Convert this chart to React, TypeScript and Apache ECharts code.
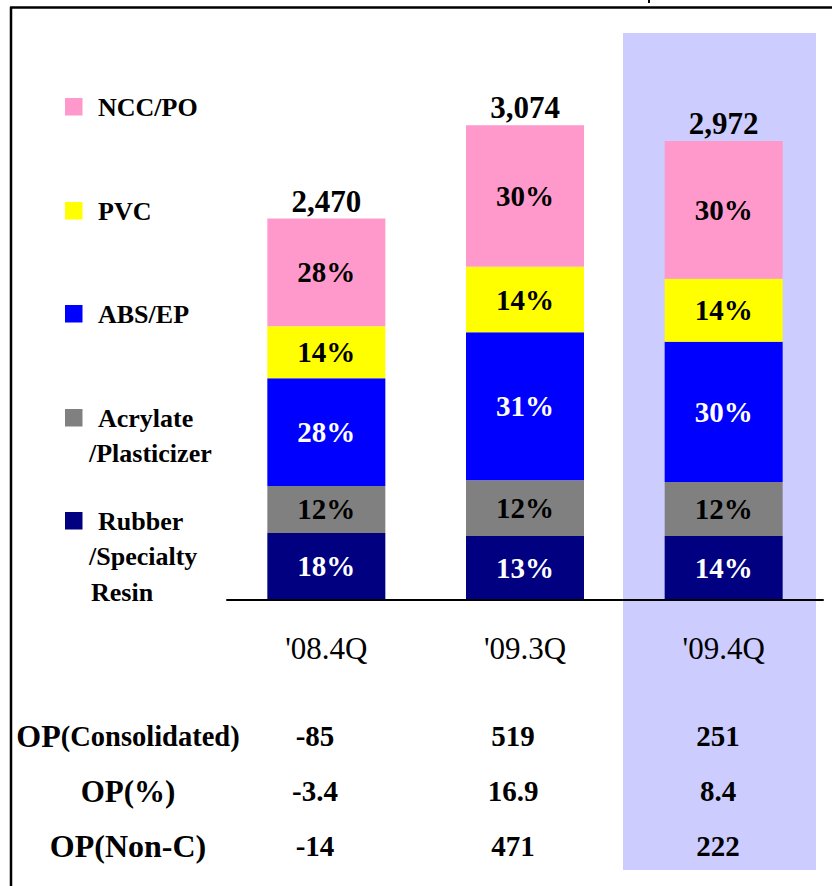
import React, { useEffect, useRef } from "react";
import * as echarts from "echarts";

const categories = ["'08.4Q", "'09.3Q", "'09.4Q"];
const seriesNames = ["Rubber/Specialty Resin", "Acrylate/Plasticizer", "ABS/EP", "PVC", "NCC/PO"];
const seriesColors = ["#000080", "#808080", "#0000FF", "#FFFF00", "#FF99CC"];
const labelColors = ["#FFFFFF", "#000000", "#FFFFFF", "#000000", "#000000"];

const rubberValues = [434, 414, 414];
const acrylateValues = [304, 362, 350];
const absValues = [698, 958, 908];
const pvcValues = [336, 423, 408];
const nccValues = [698, 917, 892];
const totals = [2470, 3074, 2972];

const rubberPct = ["18%", "13%", "14%"];
const acrylatePct = ["12%", "12%", "12%"];
const absPct = ["28%", "31%", "30%"];
const pvcPct = ["14%", "14%", "14%"];
const nccPct = ["28%", "30%", "30%"];

const legendLines = [
  ["Rubber", "/Specialty", "Resin"],
  ["Acrylate", "/Plasticizer"],
  ["ABS/EP"],
  ["PVC"],
  ["NCC/PO"],
];

const rowLabels = ["OP(Consolidated)", "OP(%)", "OP(Non-C)"];
const opConsolidated = ["-85", "519", "251"];
const opPercent = ["-3.4", "16.9", "8.4"];
const opNonConsolidated = ["-14", "471", "222"];

const FONT = '"Liberation Serif", "Times New Roman", serif';

export default function App() {
  const ref = useRef<HTMLDivElement>(null);

  useEffect(() => {
    if (!ref.current) return;
    const chart = echarts.init(ref.current, null, { renderer: "svg" });

    const values = [rubberValues, acrylateValues, absValues, pvcValues, nccValues];
    const pcts = [rubberPct, acrylatePct, absPct, pvcPct, nccPct];

    const barSeries: any[] = seriesNames.map((name, i) => ({
      name,
      type: "bar",
      stack: "total",
      barWidth: 118,
      z: 3,
      itemStyle: { color: seriesColors[i] },
      label: {
        show: true,
        position: "inside",
        fontFamily: FONT,
        fontWeight: "bold",
        fontSize: 29,
        color: labelColors[i],
        formatter: (p: any) => pcts[i][p.dataIndex],
      },
      data: values[i],
    }));

    const totalSeries = {
      name: "Total",
      type: "scatter",
      symbolSize: 0,
      z: 4,
      itemStyle: { opacity: 1, color: "#000" },
      data: totals,
      label: {
        show: true,
        position: "top",
        distance: 2,
        fontFamily: FONT,
        fontWeight: "bold",
        fontSize: 31,
        color: "#000",
        opacity: 1,
        formatter: (p: any) => totals[p.dataIndex].toLocaleString("en-US"),
      },
    };

    const graphics: any[] = [];
    graphics.push({
      type: "rect",
      z: -10,
      shape: { x: 623, y: 33, width: 193, height: 837 },
      style: { fill: "#CCCCFF" },
    });
    graphics.push({
      type: "line",
      shape: { x1: 10, y1: 7.5, x2: 832, y2: 7.5 },
      style: { stroke: "#000", lineWidth: 2.5 },
    });
    graphics.push({
      type: "line",
      shape: { x1: 11, y1: 7, x2: 11, y2: 886 },
      style: { stroke: "#000", lineWidth: 2.5 },
    });
    graphics.push({
      type: "line",
      shape: { x1: 649, y1: 0, x2: 649, y2: 3 },
      style: { stroke: "#000", lineWidth: 2 },
    });

    const legendCenters = [521, 418, 314, 211, 107];
    legendLines.forEach((lines, i) => {
      const cy = legendCenters[i];
      graphics.push({
        type: "rect",
        shape: { x: 65, y: cy - 9, width: 17.5, height: 17.5 },
        style: { fill: seriesColors[i] },
      });
      lines.forEach((t, j) => {
        graphics.push({
          type: "text",
          x: j === 0 ? 98 : t.startsWith("/") ? 89 : 91,
          y: cy + j * 35.5,
          style: {
            text: t,
            fontFamily: FONT,
            fontWeight: "bold",
            fontSize: 26,
            fill: "#000",
            textAlign: "left",
            textVerticalAlign: "middle",
          },
        });
      });
    });

    const rowY = [736, 791, 846];
    const colX = [315, 513, 718];
    const rows = [opConsolidated, opPercent, opNonConsolidated];
    rowLabels.forEach((lab, r) => {
      const m = lab.match(/^(OP)(.*)$/);
      const rest = m ? m[2] : "";
      const small = rest === "(Consolidated)";
      graphics.push({
        type: "text",
        x: 128,
        y: rowY[r],
        style: {
          text: small ? `{a|OP}{b|${rest}}` : lab,
          rich: small
            ? {
                a: { fontFamily: FONT, fontWeight: "bold", fontSize: 32, fill: "#000" },
                b: { fontFamily: FONT, fontWeight: "bold", fontSize: 28.5, fill: "#000" },
              }
            : undefined,
          fontFamily: FONT,
          fontWeight: "bold",
          fontSize: r === 2 ? 32 : 31,
          fill: "#000",
          textAlign: "center",
          textVerticalAlign: "middle",
        },
      });
      rows[r].forEach((v, c) => {
        graphics.push({
          type: "text",
          x: colX[c],
          y: rowY[r],
          style: {
            text: v,
            fontFamily: FONT,
            fontWeight: "bold",
            fontSize: 29,
            fill: "#000",
            textAlign: "center",
            textVerticalAlign: "middle",
          },
        });
      });
    });

    chart.setOption({
      animation: false,
      backgroundColor: "#FFFFFF",
      grid: { left: 227, right: 11, top: 44, bottom: 286, containLabel: false },
      xAxis: {
        type: "category",
        data: categories,
        z: 6,
        axisLine: { show: true, lineStyle: { color: "#000", width: 2 } },
        axisTick: { show: false },
        axisLabel: {
          margin: 33,
          fontFamily: FONT,
          fontSize: 31,
          color: "#000",
        },
      },
      yAxis: {
        type: "value",
        min: 0,
        max: 3600,
        show: false,
        splitLine: { show: false },
      },
      graphic: graphics,
      series: [...barSeries, totalSeries],
    });

    return () => chart.dispose();
  }, []);

  return (
    <div
      ref={ref}
      style={{ position: "fixed", left: 0, top: 0, width: 834, height: 886, background: "#fff" }}
    />
  );
}
